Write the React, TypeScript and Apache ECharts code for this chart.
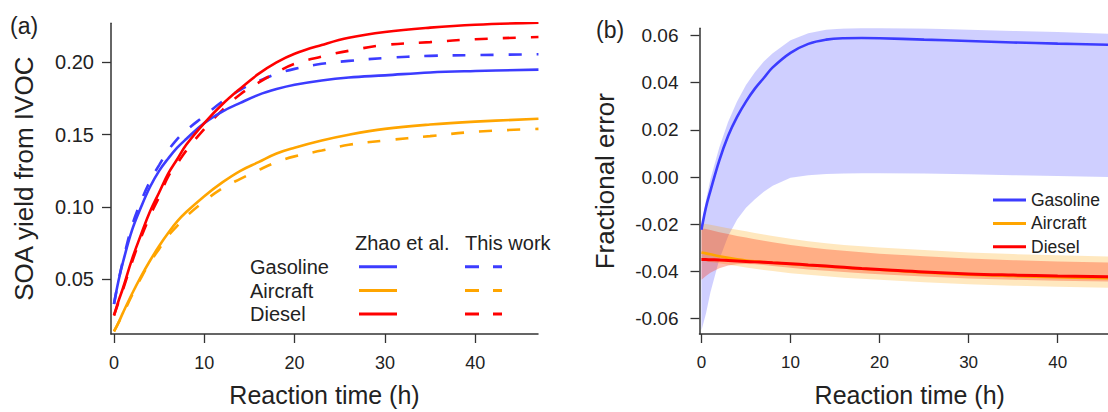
import React, { useEffect, useRef } from "react";
import * as echarts from "echarts";

// ---------- Panel (a): SOA yield from IVOC ----------
const T_LEFT = [0, 0.5, 1, 2, 3, 4, 5, 6, 7, 8, 10, 12, 14, 16, 18, 20, 23, 26, 30, 35, 40, 47];
const GAS_ZHAO = [0.033, 0.049, 0.062, 0.084, 0.100, 0.114, 0.125, 0.1335, 0.141, 0.147, 0.158, 0.166, 0.172, 0.1775, 0.1815, 0.1845, 0.1875, 0.1895, 0.191, 0.193, 0.194, 0.195];
const GAS_THIS = [0.033, 0.049, 0.063, 0.087, 0.104, 0.118, 0.129, 0.139, 0.147, 0.153, 0.163, 0.173, 0.181, 0.187, 0.192, 0.1955, 0.199, 0.201, 0.203, 0.2045, 0.205, 0.2056];
const AIR_ZHAO = [0.014, 0.020, 0.027, 0.040, 0.052, 0.063, 0.073, 0.082, 0.090, 0.0965, 0.1075, 0.117, 0.125, 0.131, 0.137, 0.141, 0.146, 0.150, 0.154, 0.157, 0.159, 0.161];
const AIR_THIS = [0.014, 0.020, 0.026, 0.039, 0.051, 0.062, 0.071, 0.080, 0.087, 0.0935, 0.104, 0.113, 0.1195, 0.1255, 0.131, 0.135, 0.139, 0.143, 0.146, 0.149, 0.152, 0.154];
const DIE_ZHAO = [0.025, 0.035, 0.044, 0.064, 0.081, 0.097, 0.110, 0.123, 0.133, 0.143, 0.158, 0.171, 0.182, 0.192, 0.200, 0.206, 0.212, 0.217, 0.221, 0.224, 0.226, 0.2274];
const DIE_THIS = [0.025, 0.034, 0.043, 0.062, 0.079, 0.094, 0.107, 0.121, 0.130, 0.139, 0.154, 0.167, 0.178, 0.186, 0.193, 0.199, 0.204, 0.208, 0.212, 0.214, 0.216, 0.2175];
const LEFT_X_TICKS = [0, 10, 20, 30, 40];
const LEFT_Y_TICKS = [0.05, 0.1, 0.15, 0.2];

// ---------- Panel (b): Fractional error ----------
const T_RIGHT = [0, 0.5, 1, 2, 3, 4, 5, 6, 7, 8, 10, 12, 14, 16, 18, 20, 25, 30, 35, 40, 46];
const GAS_ERR = [-0.0224, -0.013, -0.006, 0.007, 0.0175, 0.0255, 0.032, 0.0375, 0.042, 0.0465, 0.0527, 0.0565, 0.0583, 0.0589, 0.059, 0.0589, 0.0583, 0.0577, 0.0571, 0.0566, 0.0561];
const GAS_UP = [-0.021, -0.010, -0.001, 0.0125, 0.0235, 0.032, 0.039, 0.0445, 0.049, 0.0525, 0.058, 0.061, 0.0625, 0.063, 0.0632, 0.0632, 0.063, 0.0625, 0.062, 0.0615, 0.0607];
const GAS_LOW = [-0.065, -0.058, -0.049, -0.035, -0.025, -0.018, -0.013, -0.0094, -0.0063, -0.0037, -0.0003, 0.0008, 0.0013, 0.0015, 0.0016, 0.0016, 0.0015, 0.0012, 0.0008, 0.0004, 0.0];
const AIR_ERR = [-0.032, -0.0324, -0.0328, -0.0336, -0.0343, -0.0349, -0.0354, -0.0358, -0.0361, -0.0364, -0.0369, -0.0374, -0.0379, -0.0384, -0.0389, -0.0393, -0.0405, -0.0414, -0.042, -0.0425, -0.043];
const AIR_UP = [-0.0196, -0.0199, -0.0203, -0.021, -0.0217, -0.0224, -0.023, -0.0237, -0.0244, -0.025, -0.0262, -0.0272, -0.0281, -0.0288, -0.0294, -0.0299, -0.031, -0.032, -0.0327, -0.0332, -0.0337];
const AIR_LOW = [-0.0355, -0.0357, -0.036, -0.0366, -0.0372, -0.0378, -0.0384, -0.0389, -0.0394, -0.0399, -0.0408, -0.0415, -0.0421, -0.0427, -0.0432, -0.0436, -0.0446, -0.0455, -0.0461, -0.0466, -0.047];
const DIE_ERR = [-0.035, -0.035, -0.0351, -0.0352, -0.0354, -0.0356, -0.0358, -0.036, -0.0362, -0.0364, -0.0368, -0.0373, -0.0378, -0.0383, -0.0388, -0.0392, -0.0403, -0.0411, -0.0416, -0.042, -0.0423];
const DIE_UP = [-0.0217, -0.0221, -0.0225, -0.0234, -0.0242, -0.025, -0.0257, -0.0264, -0.027, -0.0277, -0.0288, -0.0298, -0.0306, -0.0313, -0.0319, -0.0325, -0.0336, -0.0346, -0.0353, -0.0358, -0.0363];
const DIE_LOW = [-0.0436, -0.042, -0.0406, -0.0387, -0.0375, -0.037, -0.0369, -0.037, -0.0373, -0.0377, -0.0385, -0.0392, -0.0398, -0.0403, -0.0408, -0.0412, -0.0422, -0.043, -0.0436, -0.044, -0.0444];
const RIGHT_X_TICKS = [0, 10, 20, 30, 40];
const RIGHT_Y_TICKS = [-0.06, -0.04, -0.02, 0, 0.02, 0.04, 0.06];

const FUELS = ["Gasoline", "Aircraft", "Diesel"];
const COLORS = ["#3c3cff", "#ffa500", "#ff0000"];

const FONT = "'Liberation Sans', Arial, Helvetica, sans-serif";
const TXT = "#222";
const AX = "#333";

const pairs = (xs: number[], ys: number[]) => xs.map((x, i) => [x, ys[i]]);

function axisCommon(ticks: number[], fmt: (v: number) => string, fontSize: number, margin: number) {
  return {
    axisLine: { show: true, onZero: false, lineStyle: { color: AX, width: 1.5 } },
    axisTick: { show: true, inside: false, length: 9, customValues: ticks, lineStyle: { color: AX, width: 1.3 } },
    axisLabel: { customValues: ticks, formatter: fmt, fontSize, color: TXT, fontFamily: FONT, margin },
    splitLine: { show: false },
  };
}

function band(up: number[], low: number[], color: string) {
  return {
    type: "custom",
    xAxisIndex: 1,
    yAxisIndex: 1,
    coordinateSystem: "cartesian2d",
    data: T_RIGHT.map((t, i) => [t, up[i], low[i]]),
    encode: { x: 0, y: [1, 2] },
    clip: true,
    silent: true,
    z: 1,
    renderItem: (params: any, api: any) => {
      if (params.dataIndex !== 0) return null;
      const upper = T_RIGHT.map((t, i) => api.coord([t, up[i]]));
      const lower = T_RIGHT.map((t, i) => api.coord([t, low[i]])).reverse();
      return {
        type: "polygon",
        shape: { points: upper.concat(lower) },
        style: { fill: color, stroke: "none" },
      };
    },
  };
}

export default function App() {
  const ref = useRef<HTMLDivElement>(null);

  useEffect(() => {
    if (!ref.current) return;
    const chart = echarts.init(ref.current, undefined, { renderer: "svg" });

    const leftSolid = [GAS_ZHAO, AIR_ZHAO, DIE_ZHAO];
    const leftDash = [GAS_THIS, AIR_THIS, DIE_THIS];
    const rightLines = [GAS_ERR, AIR_ERR, DIE_ERR];

    const series: any[] = [];
    FUELS.forEach((f, i) => {
      series.push({
        type: "line", name: f + " (This work)", xAxisIndex: 0, yAxisIndex: 0,
        data: pairs(T_LEFT, leftDash[i]), symbol: "none", smooth: 0.4,
        lineStyle: { color: COLORS[i], width: 2.6, type: [13, 15], cap: "butt" }, z: 3,
      });
    });
    FUELS.forEach((f, i) => {
      series.push({
        type: "line", name: f + " (Zhao et al.)", xAxisIndex: 0, yAxisIndex: 0,
        data: pairs(T_LEFT, leftSolid[i]), symbol: "none", smooth: 0.4,
        lineStyle: { color: COLORS[i], width: 2.6 }, z: 4,
      });
    });
    series.push(band(GAS_UP, GAS_LOW, "rgba(64,64,255,0.25)"));
    series.push(band(AIR_UP, AIR_LOW, "rgba(255,165,0,0.25)"));
    series.push(band(DIE_UP, DIE_LOW, "rgba(255,40,0,0.3)"));
    FUELS.forEach((f, i) => {
      series.push({
        type: "line", name: f, xAxisIndex: 1, yAxisIndex: 1,
        data: pairs(T_RIGHT, rightLines[i]), symbol: "none", smooth: 0.4,
        lineStyle: { color: COLORS[i], width: i === 2 ? 3 : 2.6 }, itemStyle: { color: COLORS[i] }, z: 5 + i,
      });
    });

    const legendRows = [266.7, 290.5, 314];
    const graphic: any[] = [
      { type: "text", x: 10, y: 26, style: { text: "(a)", fontSize: 23, fontFamily: FONT, fill: TXT, verticalAlign: "middle" } },
      { type: "text", x: 596, y: 30, style: { text: "(b)", fontSize: 23, fontFamily: FONT, fill: TXT, verticalAlign: "middle" } },
      { type: "text", x: 355, y: 243, style: { text: "Zhao et al.", fontSize: 20, fontFamily: FONT, fill: TXT, verticalAlign: "middle" } },
      { type: "text", x: 465, y: 243, style: { text: "This work", fontSize: 20, fontFamily: FONT, fill: TXT, verticalAlign: "middle" } },
    ];
    FUELS.forEach((f, i) => {
      graphic.push({ type: "text", x: 250, y: legendRows[i], style: { text: f, fontSize: 20, fontFamily: FONT, fill: TXT, verticalAlign: "middle" } });
      graphic.push({ type: "line", shape: { x1: 359, y1: legendRows[i], x2: 397, y2: legendRows[i] }, style: { stroke: COLORS[i], lineWidth: 3 } });
      graphic.push({ type: "line", shape: { x1: 465, y1: legendRows[i], x2: 502, y2: legendRows[i] }, style: { stroke: COLORS[i], lineWidth: 3, lineDash: [14, 14] } });
    });

    chart.setOption({
      animation: false,
      backgroundColor: "#fff",
      textStyle: { fontFamily: FONT, color: TXT },
      grid: [
        { left: 111, top: 23.3, width: 427, height: 318.4 },
        { left: 699.5, top: 28.3, width: 420.5, height: 316 },
      ],
      xAxis: [
        {
          type: "value", gridIndex: 0, min: -0.33, max: 46.95,
          name: "Reaction time (h)", nameLocation: "middle", nameGap: 48,
          nameTextStyle: { fontSize: 25, color: TXT, fontFamily: FONT },
          ...axisCommon(LEFT_X_TICKS, (v: number) => String(Math.round(v)), 18, 20),
        },
        {
          type: "value", gridIndex: 1, min: -0.22, max: 47.0,
          name: "Reaction time (h)", nameLocation: "middle", nameGap: 48,
          nameTextStyle: { fontSize: 25, color: TXT, fontFamily: FONT },
          ...axisCommon(RIGHT_X_TICKS, (v: number) => String(Math.round(v)), 17, 20),
        },
      ],
      yAxis: [
        {
          type: "value", gridIndex: 0, min: 0.0122, max: 0.227,
          name: "SOA yield from IVOC", nameLocation: "middle", nameGap: 74,
          nameTextStyle: { fontSize: 26, color: TXT, fontFamily: FONT },
          ...axisCommon(LEFT_Y_TICKS, (v: number) => v.toFixed(2), 20, 17),
        },
        {
          type: "value", gridIndex: 1, min: -0.0666, max: 0.0631,
          name: "Fractional error", nameLocation: "middle", nameGap: 82,
          nameTextStyle: { fontSize: 26, color: TXT, fontFamily: FONT },
          ...axisCommon(RIGHT_Y_TICKS, (v: number) => v.toFixed(2), 19, 21),
        },
      ],
      legend: {
        data: FUELS,
        orient: "vertical",
        left: 993,
        top: 191,
        icon: "rect",
        itemWidth: 33,
        itemHeight: 3,
        itemGap: 5.4,
        padding: 0,
        textStyle: { fontSize: 17.5, color: TXT, fontFamily: FONT },
      },
      graphic,
      series,
    });

    return () => chart.dispose();
  }, []);

  return (
    <div style={{ position: "absolute", left: 0, top: 0, width: 1108, height: 412, overflow: "hidden", background: "#fff" }}>
      <div ref={ref} style={{ width: 1121, height: 412 }} />
    </div>
  );
}
